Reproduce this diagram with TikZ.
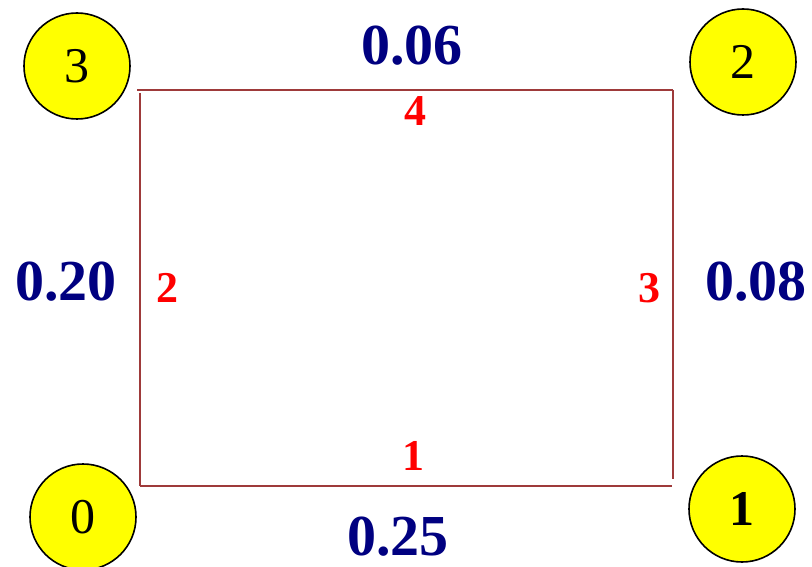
\documentclass[tikz,border=0pt]{standalone}
\usepackage{fontspec}
\setmainfont{Liberation Serif}
\definecolor{wtblue}{HTML}{000080}
\definecolor{edgered}{HTML}{FF0000}
\definecolor{rectline}{HTML}{9E3A3A}
\definecolor{vtxfill}{HTML}{FFFF00}
\usetikzlibrary{positioning}

\begin{document}
\begin{tikzpicture}[x=1pt, y=-1pt,
    vertex/.style={circle, draw=black, line width=1.6pt, fill=vtxfill,
                   minimum size=106pt, inner sep=0pt,
                   font=\fontsize{50}{54}\selectfont},
    weight/.style={text=wtblue, inner sep=0pt,
                   font=\fontsize{58}{62}\selectfont\bfseries},
    edgeid/.style={text=edgered, inner sep=0pt,
                   font=\fontsize{44}{48}\selectfont\bfseries},
    side/.style={draw=rectline, line width=2.4pt}]
  \useasboundingbox (0,0) rectangle (812,567);

  % Corners of the rectangle
  \coordinate (c0) at (140,486);
  \coordinate (c1) at (673,486);
  \coordinate (c2) at (673,90);
  \coordinate (c3) at (140,90);

  % Sides
  \draw[side, shorten <=-3pt] (c3) -- (c2);
  \draw[side, shorten >=7pt] (c2) -- (c1);
  \draw[side, shorten >=1pt] (c0) -- (c1);
  \draw[side, shorten <=3pt] (c3) -- (c0);

  % Vertices
  \node[vertex] (v3) at (77,66) {3};
  \node[vertex] (v2) at (743,62) {2};
  \node[vertex] (v0) at (83,517) {0};
  \node[vertex] (v1) at (742,509) {\bfseries 1};

  % Edge numbers
  \node[edgeid] (e1) at (413,456) {1};
  \node[edgeid] (e2) at (167,288) {2};
  \node[edgeid] (e3) at (649,288) {3};
  \node[edgeid] (e4) at (415,111) {4};

  % Weights
  \node[weight] (w01) at (398,537) {0.25};
  \node[weight] (w03) at (66,282) {0.20};
  \node[weight] (w12) at (756,282) {0.08};
  \node[weight] (w23) at (412,46) {0.06};
\end{tikzpicture}
\end{document}
